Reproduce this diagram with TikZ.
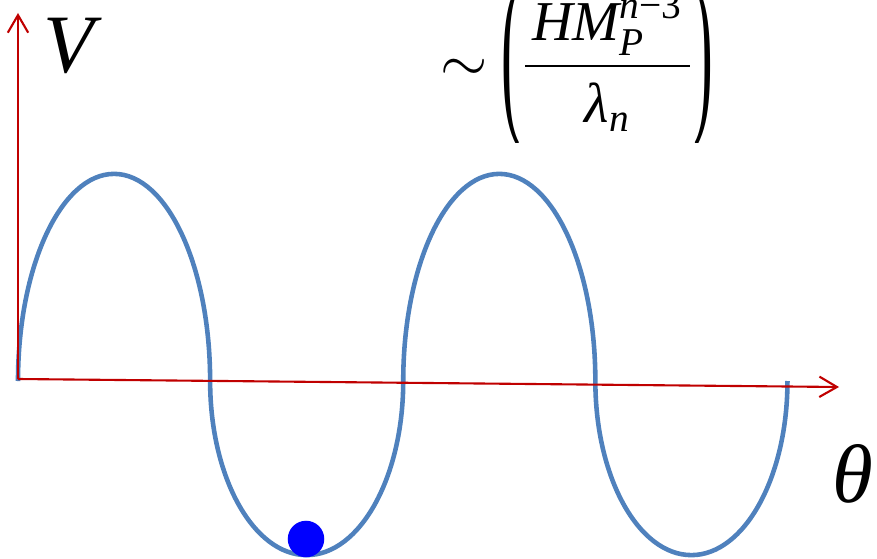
\documentclass[tikz,border=0pt]{standalone}
\usepackage{amsmath}
\usepackage{fontspec}
\setmainfont{Liberation Serif}
\usetikzlibrary{arrows.meta}
\definecolor{wblue}{RGB}{79, 129, 189}
\definecolor{axred}{RGB}{192, 0, 0}
\definecolor{ballblue}{RGB}{0, 0, 255}
\newcommand{\tallparen}[1]{\vcenter{\hbox{\scalebox{1.05}[3.3]{#1}}}}

\begin{document}
\begin{tikzpicture}[
  x=0.01cm, y=-0.01cm,
  wave/.style={draw=wblue, line width=1.3pt},
  axis/.style={draw=axred, line width=0.6pt, -{Straight Barb[length=5pt, width=5.8pt]}},
  lbl/.style={font=\fontsize{23.6}{28}\selectfont\itshape, inner sep=0pt, anchor=base},
  formula/.style={font=\fontsize{16}{19}\selectfont, inner sep=0pt},
  ball/.style={circle, fill=ballblue, minimum size=0.365cm, inner sep=0pt}
]
\useasboundingbox (0,0) rectangle (877,558);

% Potential
\draw[wave] (18,381)
  arc[start angle=180, end angle=0,   x radius=0.96cm,  y radius=2.07cm]
  arc[start angle=180, end angle=360, x radius=0.965cm, y radius=1.74cm]
  arc[start angle=180, end angle=0,   x radius=0.96cm,  y radius=2.07cm]
  arc[start angle=180, end angle=360, x radius=0.96cm,  y radius=1.74cm];

% Axes
\coordinate (orig) at (18,379);
\coordinate (vtip) at (18,13);
\coordinate (htip) at (839,387);
\draw[axis] (orig) -- (vtip);
\draw[axis] (orig) -- (htip);
\node[lbl] (vlabel) at (69,73) {V};
\node[lbl] (thlabel) at (853,502) {θ};

% Ball in the minimum
\node[ball] (ball) at (306,539) {};

% Height of the barrier
\begin{scope}
  \clip (430,0) rectangle (760,143);
  \node[formula, anchor=west] (barrier) at (440,66)
    {${\sim}\mkern4mu\tallparen{(}\dfrac{\mkern2mu\textit{HM}_{\textit{P}}^{\textit{n}\text{−3}}\mkern2mu}{\textit{λ}_{\textit{n}}}\tallparen{)}$};
\end{scope}
\end{tikzpicture}
\end{document}
